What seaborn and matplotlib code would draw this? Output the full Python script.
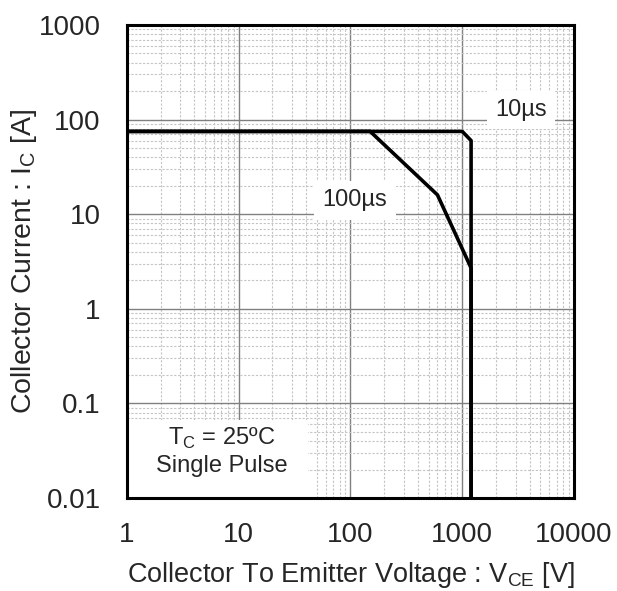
import numpy as np
import pandas as pd
import seaborn as sns
import matplotlib
matplotlib.use("Agg")
import matplotlib.pyplot as plt
from matplotlib.patches import Rectangle
from matplotlib.ticker import LogLocator, NullFormatter, FixedLocator

# safe operating area curves
v_10us = [1, 1000, 1200, 1200]
i_10us = [75, 75, 60, 0.01]
v_100us = [1, 150, 600, 1200, 1200]
i_100us = [75, 75, 16, 2.7, 0.01]

x_ticks = [1, 10, 100, 1000, 10000]
x_labels = ["1", "10", "100", "1000", "10000"]
y_ticks = [0.01, 0.1, 1, 10, 100, 1000]
y_labels = ["0.01", "0.1", "1", "10", "100", "1000"]

df = pd.concat([
    pd.DataFrame({"V": v_10us, "I": i_10us, "pulse": "10µs"}),
    pd.DataFrame({"V": v_100us, "I": i_100us, "pulse": "100µs"}),
], ignore_index=True)

sns.set_style("white")
plt.rcParams['font.family'] = ['Liberation Sans', 'DejaVu Sans']

fig = plt.figure(figsize=(6.17, 5.91), dpi=100)
ax = fig.add_axes([0.2058, 0.1574, 0.7245, 0.8003])

ax.set_xscale("log")
ax.set_yscale("log")
ax.set_xlim(1, 10000)
ax.set_ylim(0.01, 1000)

ax.xaxis.set_major_locator(FixedLocator(x_ticks))
ax.set_xticklabels(x_labels)
ax.yaxis.set_major_locator(FixedLocator(y_ticks))
ax.set_yticklabels(y_labels)
ax.xaxis.set_minor_locator(LogLocator(base=10, subs=np.arange(2, 10), numticks=20))
ax.yaxis.set_minor_locator(LogLocator(base=10, subs=np.arange(2, 10), numticks=20))
ax.xaxis.set_minor_formatter(NullFormatter())
ax.yaxis.set_minor_formatter(NullFormatter())

ax.grid(which="major", color="#808080", linewidth=1.0, linestyle="-")
ax.grid(which="minor", color="#c4c4c4", linewidth=0.8, linestyle=(0, (2, 1.5)))
ax.tick_params(which="both", length=0, labelsize=20)
ax.tick_params(axis="x", pad=17)
ax.tick_params(axis="y", pad=19)

sns.lineplot(data=df, x="V", y="I", units="pulse", estimator=None, sort=False,
             color="black", linewidth=2.6, ax=ax, legend=False)

box = dict(facecolor="white", edgecolor="none", pad=6)
ax.text(3357, 126, "10µs", fontsize=17, ha="center", va="center", bbox=box)
ax.text(110, 14, "100µs", fontsize=17, ha="center", va="center", bbox=box)

# white panel behind the conditions note
ax.add_patch(Rectangle((0, 0), 0.405, 0.165, transform=ax.transAxes,
                       facecolor="white", edgecolor="none", zorder=1.5))
ax.text(7.1, 0.031, "T$_\\mathregular{C}$ = 25ºC\nSingle Pulse", fontsize=17,
        ha="center", va="center", linespacing=1.25, zorder=3)

for s in ax.spines.values():
    s.set_color("black")
    s.set_linewidth(2.2)

ax.set_xlabel("Collector To Emitter Voltage : V$_\\mathregular{CE}$ [V]", fontsize=19.5, labelpad=9)
ax.set_ylabel("Collector Current : I$_\\mathregular{C}$ [A]", fontsize=20.5, labelpad=0)

fig.savefig("out.png", dpi=100)
